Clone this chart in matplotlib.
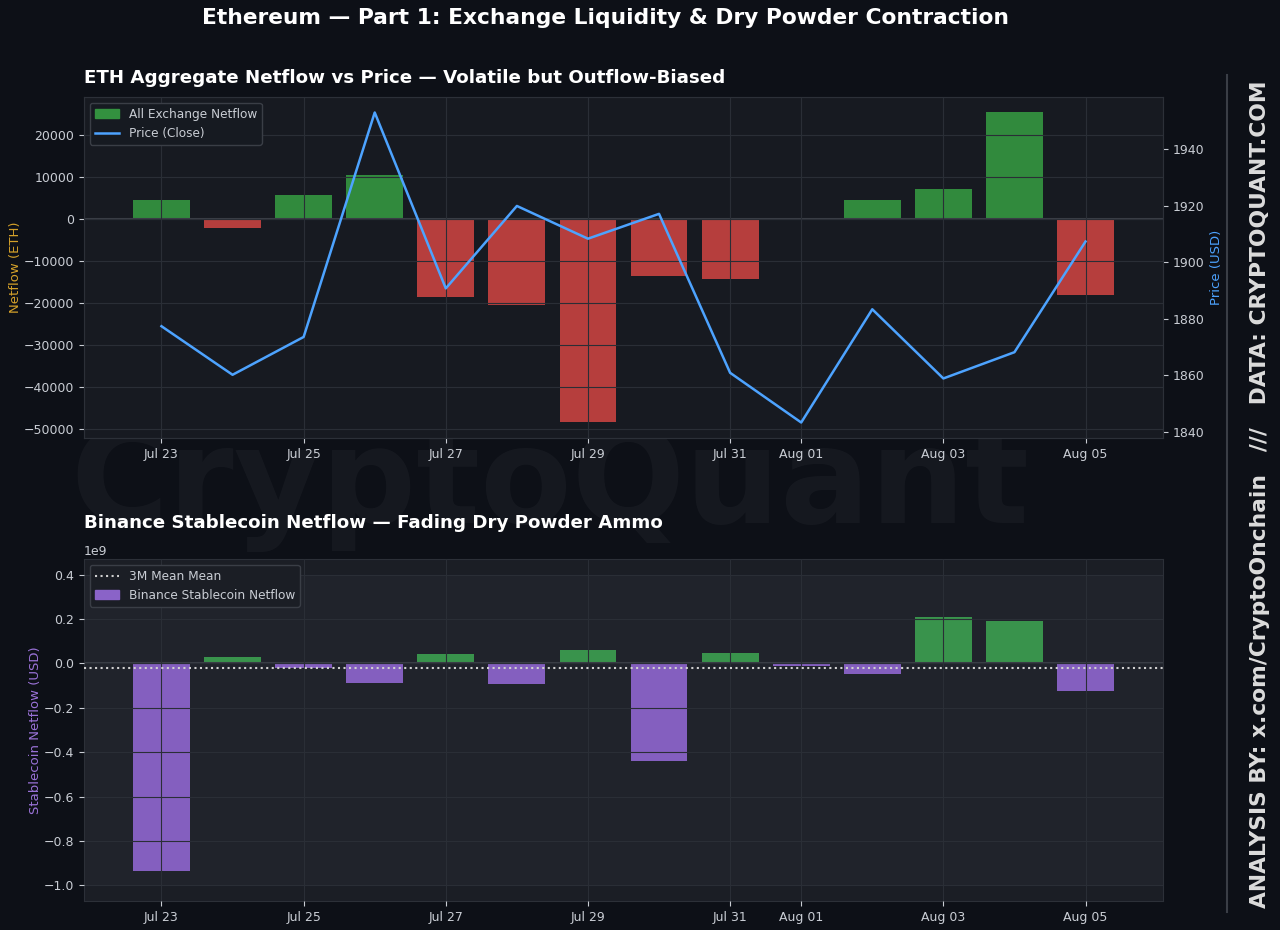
import matplotlib
matplotlib.use("Agg")
import matplotlib.pyplot as plt
import matplotlib.dates as mdates
import numpy as np
import pandas as pd
from matplotlib.lines import Line2D
from matplotlib.patches import Patch

# --- data ---
dates = pd.date_range("2023-07-23", "2023-08-05", freq="D")
eth_netflow = [4400, -2200, 5800, 10500, -18600, -20500, -48400,
               -13600, -14300, 0, 4400, 7000, 25300, -18000]
eth_price = [1877.3, 1860.1, 1873.5, 1953.0, 1890.7, 1919.9, 1908.3,
             1917.1, 1860.8, 1843.2, 1883.3, 1858.8, 1868.1, 1907.3]
stable_netflow = np.array([-0.935, 0.027, -0.020, -0.088, 0.040, -0.094, 0.062,
                           -0.440, 0.048, -0.013, -0.046, 0.207, 0.189, -0.126]) * 1e9
stable_3m_mean = -0.021e9
band_low, band_high = -1.0e9, 0.4e9

BG = "#0d1017"
AX_BG = "#171a21"
AX_BG2 = "#1b1e25"
BAND = "#20232b"
GRID = "#2a2e36"
TXT = "#c9cdd4"
GREEN = "#33913f"
GREEN2 = "#3b9a4e"
RED = "#c0413f"
PURPLE = "#8a63c8"
BLUE = "#4da3ff"
GOLD = "#d4a12a"

plt.rcParams["font.family"] = ["DejaVu Sans"]

fig = plt.figure(figsize=(12.8, 9.3), dpi=100, facecolor=BG)
ax1 = fig.add_axes([84 / 1280, 1 - 438 / 930, (1163 - 84) / 1280, (438 - 97) / 930])
ax3 = fig.add_axes([84 / 1280, 1 - 901 / 930, (1163 - 84) / 1280, (901 - 559) / 930])


def style_axes(ax, face):
    ax.set_facecolor(face)
    for s in ax.spines.values():
        s.set_color("#2c3038")
    ax.tick_params(colors=TXT, labelsize=9)
    ax.grid(True, color=GRID, linewidth=0.8)
    ax.set_axisbelow(False)


# --- top panel ---
style_axes(ax1, AX_BG)
bar_cols = [GREEN if v >= 0 else RED for v in eth_netflow]
ax1.bar(dates, eth_netflow, width=0.8, color=bar_cols, alpha=0.95, zorder=1)
ax1.axhline(0, color="#3a3e46", linewidth=1.5, zorder=1.5)
ax1.set_ylabel("Netflow (ETH)", color=GOLD, fontsize=9.5, labelpad=1)
ax1.set_title("ETH Aggregate Netflow vs Price \u2014 Volatile but Outflow-Biased",
              loc="left", color="white", fontsize=13.15, fontweight="bold", pad=10)

ax2 = ax1.twinx()
ax2.plot(dates, eth_price, color=BLUE, linewidth=1.8)
ax2.set_ylabel("Price (USD)", color=BLUE, fontsize=9.5)
ax2.tick_params(colors=TXT, labelsize=9)
for s in ax2.spines.values():
    s.set_color("#2c3038")

ax1.legend(handles=[Patch(color=GREEN, label="All Exchange Netflow"),
                    Line2D([], [], color=BLUE, lw=1.8, label="Price (Close)")],
           loc="upper left", fontsize=8.7, facecolor="#161a21",
           edgecolor="#3a3e46", labelcolor=TXT, framealpha=1)

# --- bottom panel ---
style_axes(ax3, AX_BG2)
ax3.axhspan(band_low, band_high, color=BAND, zorder=0)
s_cols = [GREEN2 if v >= 0 else PURPLE for v in stable_netflow]
ax3.bar(dates, stable_netflow, width=0.8, color=s_cols, alpha=0.95, zorder=1)
ax3.axhline(0, color="#3a3e46", linewidth=1.5, zorder=1.5)
ax3.axhline(stable_3m_mean, color="#d0d0d0", linestyle=":", linewidth=1.5, zorder=3)
ax3.set_ylabel("Stablecoin Netflow (USD)", color="#9a72d8", fontsize=9.5, labelpad=1)
ax3.set_title("Binance Stablecoin Netflow \u2014 Fading Dry Powder Ammo",
              loc="left", color="white", fontsize=13.15, fontweight="bold", pad=22)
ax3.yaxis.get_offset_text().set_color(TXT)
ax3.yaxis.get_offset_text().set_fontsize(9)
ax3.legend(handles=[Line2D([], [], color="#d0d0d0", ls=":", lw=1.5, label="3M Mean Mean"),
                    Patch(color=PURPLE, label="Binance Stablecoin Netflow")],
           loc="upper left", fontsize=8.7, facecolor="#1b1e25",
           edgecolor="#3a3e46", labelcolor=TXT, framealpha=1)

for ax in (ax1, ax3):
    ax.xaxis.set_major_locator(mdates.DayLocator(bymonthday=range(1, 32, 2)))
    ax.xaxis.set_major_formatter(mdates.DateFormatter("%b %d"))

# --- figure decorations ---
fig.text(606 / 1280, 1 - 18 / 930,
         "Ethereum \u2014 Part 1: Exchange Liquidity & Dry Powder Contraction",
         ha="center", va="center", color="white", fontsize=15.65, fontweight="bold")
fig.text(550 / 1280, 1 - 487 / 930, "CryptoQuant", ha="center", va="center",
         fontsize=96, fontweight="bold", color="white", alpha=0.035, zorder=-1)
fig.add_artist(Line2D([1227 / 1280, 1227 / 1280], [1 - 75 / 930, 1 - 912 / 930],
                      transform=fig.transFigure, color="#3a3e46", lw=1.5))
fig.text(1260 / 1280, 1 - 494 / 930,
         "ANALYSIS BY: x.com/CryptoOnchain   ///   DATA: CRYPTOQUANT.COM",
         rotation=90, ha="center", va="center", color="#dcdcdc",
         fontsize=15.7, fontweight="bold")

fig.savefig("out.png", dpi=100, facecolor=BG)
